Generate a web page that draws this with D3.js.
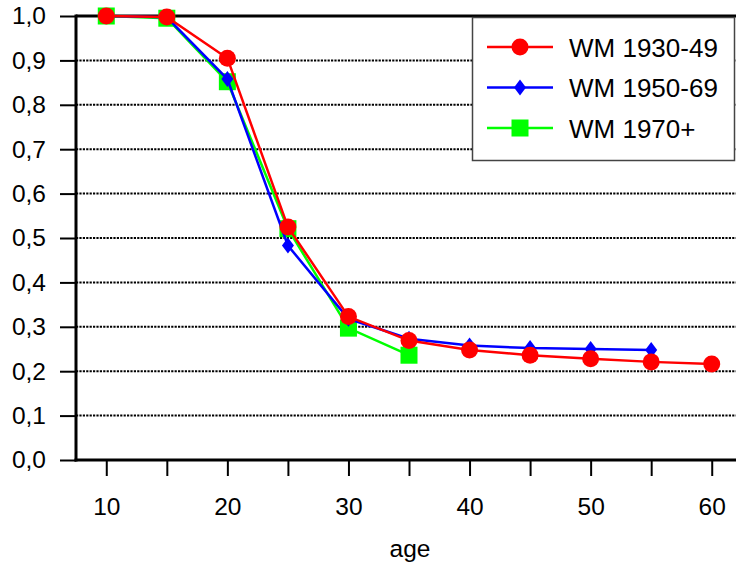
<!DOCTYPE html>
<html>
<head>
<meta charset="utf-8">
<script src="https://cdn.jsdelivr.net/npm/d3@7"></script>
<style>
  html, body { margin: 0; padding: 0; background: #fff; }
  svg { display: block; font-family: "Liberation Sans", Arial, sans-serif; }
</style>
</head>
<body>
<svg id="chart" width="736" height="569"></svg>
<script>
const ages = [10, 15, 20, 25, 30, 35, 40, 45, 50, 55, 60];
const yTicks = [0, 0.1, 0.2, 0.3, 0.4, 0.5, 0.6, 0.7, 0.8, 0.9, 1.0];
const xTickLabels = [10, 20, 30, 40, 50, 60];
const seriesNames = ["WM 1930-49", "WM 1950-69", "WM 1970+"];
const wm1930 = [1.0, 0.998, 0.905, 0.525, 0.323, 0.269, 0.248, 0.236, 0.228, 0.221, 0.216];
const wm1950 = [1.0, 0.997, 0.858, 0.483, 0.318, 0.273, 0.258, 0.252, 0.25, 0.248, null];
const wm1970 = [1.0, 0.995, 0.852, 0.521, 0.297, 0.236, null, null, null, null, null];

const svg = d3.select("#chart");
const x = d3.scaleLinear().domain([7.5, 62.5]).range([76, 742]);
const y = d3.scaleLinear().domain([0, 1]).range([460, 16]);

const series = [
  {name: seriesNames[2], values: wm1970, color: "#00FF00", marker: "square"},
  {name: seriesNames[1], values: wm1950, color: "#0000FF", marker: "diamond"},
  {name: seriesNames[0], values: wm1930, color: "#FF0000", marker: "circle"}
];

// gridlines
svg.append("g").selectAll("line")
  .data(yTicks.filter(d => d > 0 && d < 1))
  .join("line")
  .attr("x1", x(7.5)).attr("x2", 736)
  .attr("y1", d => y(d)).attr("y2", d => y(d))
  .attr("stroke", "#000").attr("stroke-width", 2)
  .attr("stroke-dasharray", "2.2,1.2");

// top border
svg.append("line").attr("x1", x(7.5)).attr("x2", 736)
  .attr("y1", y(1)).attr("y2", y(1)).attr("stroke", "#000").attr("stroke-width", 3);

// y axis
const yAxis = d3.axisLeft(y).tickValues(yTicks).tickSize(16).tickPadding(14)
  .tickFormat(d => d3.format(".1f")(d).replace(".", ","));
const gy = svg.append("g").attr("transform", `translate(${x(7.5)},0)`).call(yAxis);
gy.select(".domain").remove();
gy.selectAll(".tick line").attr("stroke", "#000").attr("stroke-width", 2);
gy.selectAll(".tick text").attr("font-size", 24.5).attr("fill", "#000")
  .attr("font-family", "Liberation Sans, Arial, sans-serif");
svg.append("line").attr("x1", x(7.5)).attr("x2", x(7.5))
  .attr("y1", y(1) - 1.5).attr("y2", y(0) + 1.5).attr("stroke", "#000").attr("stroke-width", 3);

// x axis
const xAxis = d3.axisBottom(x).tickValues(ages).tickSize(16).tickPadding(22)
  .tickFormat(d => xTickLabels.includes(d) ? d : "");
const gx = svg.append("g").attr("transform", `translate(0,${y(0)})`).call(xAxis);
gx.select(".domain").remove();
gx.selectAll(".tick line").attr("stroke", "#000").attr("stroke-width", 2);
gx.selectAll(".tick text").attr("font-size", 24.5).attr("fill", "#000")
  .attr("font-family", "Liberation Sans, Arial, sans-serif");
svg.append("line").attr("x1", x(7.5) - 1.5).attr("x2", 736)
  .attr("y1", y(0)).attr("y2", y(0)).attr("stroke", "#000").attr("stroke-width", 3);

svg.append("text").attr("x", 410).attr("y", 557).attr("text-anchor", "middle")
  .attr("font-size", 24.5).attr("fill", "#000").text("age");

function drawMarker(g, type, cx, cy, color) {
  if (type === "circle") {
    g.append("circle").attr("cx", cx).attr("cy", cy).attr("r", 8.5).attr("fill", color);
  } else if (type === "square") {
    g.append("rect").attr("x", cx - 8.5).attr("y", cy - 8.5).attr("width", 17).attr("height", 17).attr("fill", color);
  } else {
    const w = 6, h = 8;
    g.append("path").attr("d", `M${cx},${cy - h}L${cx + w},${cy}L${cx},${cy + h}L${cx - w},${cy}Z`).attr("fill", color);
  }
}

const line = d3.line().defined(d => d.v != null).x(d => x(d.a)).y(d => y(d.v));
series.forEach(s => {
  const pts = ages.map((a, i) => ({a, v: s.values[i]}));
  const g = svg.append("g");
  g.append("path").datum(pts).attr("d", line).attr("fill", "none")
    .attr("stroke", s.color).attr("stroke-width", 2.5);
  pts.filter(p => p.v != null).forEach(p => drawMarker(g, s.marker, x(p.a), y(p.v), s.color));
});

// legend
const lg = svg.append("g");
lg.append("rect").attr("x", 472.5).attr("y", 17.5).attr("width", 262).attr("height", 143)
  .attr("fill", "#fff").attr("stroke", "#444").attr("stroke-width", 1.5);
const legendItems = [series[2], series[1], series[0]];
legendItems.forEach((s, i) => {
  const cy = 47 + i * 40.5;
  lg.append("line").attr("x1", 487).attr("x2", 553).attr("y1", cy).attr("y2", cy)
    .attr("stroke", s.color).attr("stroke-width", 2.5);
  drawMarker(lg, s.marker, 520, cy, s.color);
  lg.append("text").attr("x", 569).attr("y", cy + 9.5).attr("font-size", 26)
    .attr("fill", "#000").text(s.name);
});
</script>
</body>
</html>
